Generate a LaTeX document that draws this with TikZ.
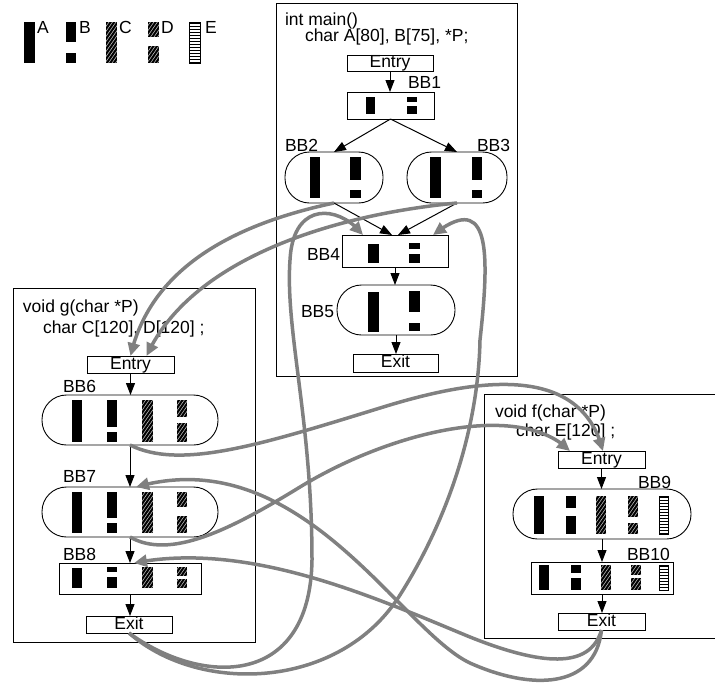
\documentclass[tikz,border=0pt]{standalone}
\usepackage{fontspec}
\setmainfont{Liberation Sans}
\usetikzlibrary{arrows.meta,bending}

\definecolor{flowgray}{RGB}{128,128,128}
\definecolor{hatchgray}{RGB}{185,185,185}

\tikzset{
  frame/.style={draw, line width=0.9pt, inner sep=0pt, outer sep=0pt},
  bbrect/.style={draw, line width=0.9pt, inner sep=0pt, outer sep=0pt},
  bbround/.style={bbrect, rounded corners=24.5pt},
  entrybox/.style={draw, line width=0.9pt, inner sep=0pt, outer sep=0pt, text height=12.5pt, text depth=3.5pt},
  txt/.style={anchor=base west, inner sep=0pt, outer sep=0pt},
  flow/.style={line width=1pt, -{Triangle[length=12pt,width=9pt]}},
  call/.style={color=flowgray, line width=3.5pt, -{Triangle[length=13pt,width=12pt]}},
  hatchline/.style={color=hatchgray, line width=0.6pt},
  stripeline/.style={color=black, line width=1.3pt}
}

\newcommand\SolidBar[4]{\fill[black] (#1,#2) rectangle (#3,#4);}
\newcommand\HatchBar[4]{%
  \begin{scope}
    \clip (#1,#2) rectangle (#3,#4);
    \fill[black] (#1,#2) rectangle (#3,#4);
    \foreach \k in {-36,-32.5,...,14} {\draw[hatchline] ({#1+\k},#4) -- ++(32,-46);}
  \end{scope}}
\newcommand\StripeBar[4]{%
  \begin{scope}
    \clip (#1,#2) rectangle (#3,#4);
    \fill[white] (#1,#2) rectangle (#3,#4);
    \foreach \k in {1.5,4.5,...,60} {\draw[stripeline] (#1,{#2+\k}) -- (#3,{#2+\k});}
  \end{scope}
  \draw[black, line width=0.8pt] (#1,#2) rectangle (#3,#4);}

\begin{document}
\begin{tikzpicture}[x=1pt, y=-1pt, font=\fontsize{17.5}{20}\selectfont]
\useasboundingbox (0,0) rectangle (715,689);

% ---------- legend ----------
\SolidBar{24}{22}{35}{63}
\node[txt] (la) at (37,33) {A};
\SolidBar{66}{22}{76}{42}
\SolidBar{66}{53}{76}{63}
\node[txt] (lb) at (79,33) {B};
\HatchBar{106}{22}{117}{63}
\node[txt] (lc) at (119,33) {C};
\HatchBar{148}{22}{159}{37}
\HatchBar{148}{46}{159}{63}
\node[txt] (ld) at (161,33) {D};
\StripeBar{189}{22}{200}{63}
\node[txt] (le) at (205,33) {E};

% ---------- main ----------
\node[frame, minimum width=241pt, minimum height=373pt] (mainbox) at (396.5,189.5) {};
\node[txt] (mt1) at (285,25) {int main()};
\node[txt] (mt2) at (305,41) {char A[80], B[75], *P;};
\node[entrybox, minimum width=86pt, minimum height=16pt] (mentry) at (390,63) {Entry};
\node[bbrect, minimum width=87pt, minimum height=27pt] (bb1) at (390.5,105.5) {};
\node[bbround, minimum width=98pt, minimum height=51pt] (bb2) at (334,177.5) {};
\node[bbround, minimum width=100pt, minimum height=51pt] (bb3) at (457,177.5) {};
\node[bbrect, minimum width=106pt, minimum height=32pt] (bb4) at (395,251) {};
\node[bbround, minimum width=118pt, minimum height=50pt] (bb5) at (396,310) {};
\node[entrybox, minimum width=85pt, minimum height=18pt] (mexit) at (395.5,363) {Exit};
\node[txt] (l1) at (408,88) {BB1};
\node[txt] (l2) at (285,151) {BB2};
\node[txt] (l3) at (477,151) {BB3};
\node[txt] (l4) at (307,260) {BB4};
\node[txt] (l5) at (301,317) {BB5};

\SolidBar{366}{97}{375}{114}
\SolidBar{407}{97}{417}{102}
\SolidBar{407}{106}{417}{114}
\SolidBar{310}{157}{320}{198}
\SolidBar{350}{157}{361}{180}
\SolidBar{350}{190}{361}{198}
\SolidBar{430}{157}{441}{198}
\SolidBar{472}{157}{482}{180}
\SolidBar{472}{190}{482}{198}
\SolidBar{368}{244}{379}{263}
\SolidBar{409}{243}{420}{249}
\SolidBar{409}{254}{420}{263}
\SolidBar{368}{292}{379}{332}
\SolidBar{409}{291}{420}{312}
\SolidBar{409}{323}{420}{331}

\draw[flow] (mentry.south) -- (mentry.south |- bb1.north);
\draw[flow] (bb1.south) -- (bb2.north);
\draw[flow] (bb1.south) -- (bb3.north);
\draw[flow] (bb2.south) -- ([xshift=-3pt]bb4.north);
\draw[flow] (bb3.south) -- ([xshift=3pt]bb4.north);
\draw[flow] (bb4.south) -- (bb4.south |- bb5.north);
\draw[flow] (bb5.south) -- (bb5.south |- mexit.north);

% ---------- g ----------
\node[frame, minimum width=242pt, minimum height=354pt] (gbox) at (134,465) {};
\node[txt] (gt1) at (23,312) {void g(char *P)};
\node[txt] (gt2) at (43,333) {char C[120], D[120] ;};
\node[entrybox, minimum width=87pt, minimum height=17pt] (gentry) at (130.5,364.5) {Entry};
\node[bbround, minimum width=176pt, minimum height=50pt] (bb6) at (130,420) {};
\node[bbround, minimum width=176pt, minimum height=50pt] (bb7) at (130,512) {};
\node[bbrect, minimum width=142pt, minimum height=31pt] (bb8) at (130,578.5) {};
\node[entrybox, minimum width=86pt, minimum height=17pt] (gexit) at (129,624.5) {Exit};
\node[txt] (l6) at (63,392) {BB6};
\node[txt] (l7) at (63,482) {BB7};
\node[txt] (l8) at (63,560) {BB8};

\SolidBar{72}{400}{82}{442}
\SolidBar{107}{400}{117}{427}
\SolidBar{107}{432}{117}{442}
\HatchBar{142}{400}{153}{442}
\HatchBar{177}{400}{187}{417}
\HatchBar{177}{423}{187}{442}

\SolidBar{72}{492}{82}{533}
\SolidBar{107}{492}{117}{518}
\SolidBar{107}{523}{117}{533}
\HatchBar{142}{492}{153}{533}
\HatchBar{177}{492}{187}{507}
\HatchBar{177}{516}{187}{533}

\SolidBar{72}{568}{82}{588}
\SolidBar{107}{567}{117}{572}
\SolidBar{107}{577}{117}{588}
\HatchBar{142}{567}{153}{588}
\HatchBar{177}{567}{187}{576}
\HatchBar{177}{579}{187}{588}

\draw[flow] (gentry.south) -- (gentry.south |- bb6.north);
\draw[flow] (bb6.south) -- (bb7.north);
\draw[flow] (bb7.south) -- (bb8.north);
\draw[flow] (bb8.south) -- (bb8.south |- gexit.north);

% ---------- f ----------
\node[frame, minimum width=236pt, minimum height=244pt] (fbox) at (602,516) {};
\node[txt] (ft1) at (495,417) {void f(char *P)};
\node[txt] (ft2) at (516,436) {char E[120] ;};
\node[entrybox, minimum width=87pt, minimum height=17pt] (fentry) at (601.5,459.5) {Entry};
\node[bbround, minimum width=178pt, minimum height=50pt] (bb9) at (602,514) {};
\node[bbrect, minimum width=142pt, minimum height=32pt] (bb10) at (602,578) {};
\node[entrybox, minimum width=87pt, minimum height=17pt] (fexit) at (601.5,621.5) {Exit};
\node[txt] (l9) at (638,488) {BB9};
\node[txt] (l10) at (627,560) {BB10};

\SolidBar{534}{496}{544}{534}
\SolidBar{566}{496}{576}{508}
\SolidBar{566}{516}{576}{534}
\HatchBar{596}{496}{606}{534}
\HatchBar{628}{496}{638}{517}
\HatchBar{628}{523}{638}{534}
\StripeBar{659}{496}{668}{534}

\SolidBar{539}{565}{549}{590}
\SolidBar{571}{565}{581}{573}
\SolidBar{571}{578}{581}{590}
\HatchBar{601}{565}{611}{590}
\HatchBar{631}{565}{641}{575}
\HatchBar{631}{578}{641}{590}
\StripeBar{659}{565}{668}{590}

\draw[flow] (fentry.south) -- (fentry.south |- bb9.north);
\draw[flow] (bb9.south) -- (bb9.south |- bb10.north);
\draw[flow] (bb10.south) -- (bb10.south |- fexit.north);

% ---------- call / return curves ----------
\draw[call] (bb2.south) .. controls (230,225) and (150,270) .. (gentry.north);
\draw[call] (bb3.south) .. controls (330,215) and (190,260) .. ([xshift=16pt]gentry.north);
\draw[call] (gexit.south) .. controls (200,685) and (310,690) .. (312,560)
   .. controls (312,420) and (285,330) .. (290,260)
   .. controls (293,200) and (340,205) .. ([xshift=21pt]bb4.north west);
\draw[call] (gexit.south) .. controls (200,695) and (340,690) .. (400,595)
   .. controls (440,532) and (478,440) .. (480,340)
   .. controls (490,250) and (490,190) .. ([xshift=-15pt]bb4.north east);
\draw[call] (bb6.south) .. controls (180,470) and (260,445) .. (380,408)
   .. controls (470,380) and (580,360) .. ([xshift=1.5pt]fentry.north);
\draw[call] (bb7.south) .. controls (170,560) and (230,530) .. (300,487)
   .. controls (390,432) and (520,400) .. ([xshift=-31.5pt]fentry.north);
\draw[call] (fexit.south) .. controls (590,670) and (540,665) .. (470,637)
   .. controls (380,600) and (250,540) .. ([xshift=4pt]bb8.north);
\draw[call] (fexit.south) .. controls (595,690) and (530,690) .. (470,663)
   .. controls (400,630) and (300,440) .. ([xshift=6pt]bb7.north);
\end{tikzpicture}
\end{document}
